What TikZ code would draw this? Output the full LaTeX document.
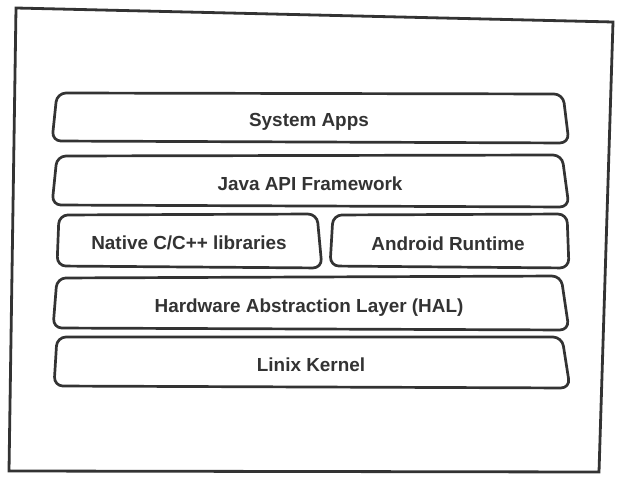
\documentclass[tikz,border=0pt]{standalone}
\usepackage{fontspec}
\setmainfont{Liberation Sans}
\definecolor{ink}{HTML}{333333}
\begin{document}
\begin{tikzpicture}[x=1pt,y=-1pt,
  frame/.style={draw=ink,line width=2.8pt,line join=miter},
  layer/.style={draw=ink,line width=2.7pt,rounded corners=9pt,line join=round},
  label/.style={text=ink,font=\fontsize{18.9}{22}\selectfont\bfseries,inner sep=0pt,anchor=base}]
\useasboundingbox (0,0) rectangle (618,478);
\fill[white] (0,0) rectangle (618,478);
% outer frame
\draw[frame] (16,8) -- (613,22) -- (599,472) -- (9,471) -- cycle;
% layers
\draw[layer] (57,93) -- (563,94) -- (569,143) -- (52,141) -- cycle;
\draw[layer] (57,156) -- (562,155) -- (569,207) -- (52,205) -- cycle;
\draw[layer] (59,215) -- (317,214) -- (322,268) -- (57,266) -- cycle;
\draw[layer] (333,215) -- (567,214) -- (569,268) -- (330,266) -- cycle;
\draw[layer] (57,278) -- (561,276) -- (569,330) -- (53,328) -- cycle;
\draw[layer] (57,337) -- (562,337) -- (570,388) -- (54,386) -- cycle;
% labels
\node[label] (apps) at (309,126.5) {System Apps};
\node[label] (java) at (310,190.5) {Java API Framework};
\node[label] (native) at (189,250) {Native C/C++ libraries};
\node[label] (art) at (448,251) {Android Runtime};
\node[label] (hal) at (309,312) {Hardware Abstraction Layer (HAL)};
\node[label] (kernel) at (311,371) {Linix Kernel};
\end{tikzpicture}
\end{document}
